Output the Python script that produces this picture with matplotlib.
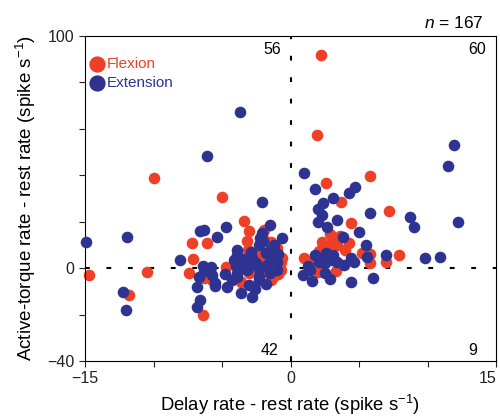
import numpy as np
import matplotlib.pyplot as plt

plt.rcParams['font.family'] = ['Liberation Sans', 'DejaVu Sans']
plt.rcParams['mathtext.fontset'] = 'custom'
plt.rcParams['mathtext.rm'] = 'Liberation Sans'
plt.rcParams['mathtext.it'] = 'Liberation Sans:italic'

red = '#EE4026'
blue = '#2E3391'

# Flexion (red) neurons: delay rate - rest, active-torque rate - rest
flex_x = [2.2, 1.9, 5.8, 2.6, 3.7, 7.2, 4.4, 7.9, 5.2, 5.8, 7.0, 1.0, 2.3, 3.1, 4.3, 3.4,
          2.7, 2.1, 3.6, 4.0, 5.8, 1.5, 2.9,
          -10.0, -5.0, -3.4, -3.0, -1.9, -3.2, -7.2, -6.1, -7.1, -3.1, -1.4, -0.6, -2.6,
          -2.3, -4.7, -0.7, -1.9, -1.0, -3.5, -2.0, -1.5,
          -14.7, -10.5, -11.8, -6.4, -7.4, -6.3, -2.0, -0.7, -1.3, -3.6, -2.6, -5.7, -3.9,
          -1.4, -0.9, -3.0,
          2.0, 3.3]
flex_y = [92, 57.5, 39.5, 36.5, 28.3, 24.5, 19.3, 5.6, 6.4, 2.1, 2.6, 4.3, 11.2, 12.0, 10.7, 9.9,
          8.6, 7.5, 13.7, 8.0, 6.0, 2.0, 14.5,
          39, 30.5, 20.2, 15.9, 16.3, 11.6, 10.7, 10.7, 3.9, 7.7, 11.2, 4.3, 4.3,
          6.4, 0.4, 2.6, 2.6, 8.5, 2.0, 13.0, 6.0,
          -3.0, -1.7, -11.6, -20.4, -2.1, -4.3, -1.7, -0.9, -3.9, -6.0, -0.5, -5.2, -3.0,
          -5.2, -2.5, -2.0,
          -1.7, -1.2]

# Extension (blue) neurons
ext_x = [11.9, 11.5, 12.2, 0.95, 1.8, 4.7, 4.3, 3.1, 2.4, 2.0, 2.3, 3.4, 2.7, 5.8, 8.7, 9.0,
         5.0, 3.8, 5.5, 1.8, 2.8, 2.5, 3.9, 4.4, 5.6, 7.0, 9.8, 10.9, 2.1, 3.1, 3.4, 2.0,
         3.0, 1.3, 2.6, 4.6, 2.2,
         -3.7, -6.1, -2.1, -14.9, -11.9, -8.1, -6.3, -6.6, -4.7, -5.4, -1.5, -0.6, -2.1,
         -2.3, -1.4, -1.0, -2.8, -3.9, -3.7, -6.4, -5.8, -4.1, -2.0, -1.5, -2.2, -1.8,
         -3.9, -2.5, -1.2, -0.9, -3.5, -2.9, -4.0, -1.7, -3.0,
         -12.2, -12.0, -6.8, -6.6, -6.8, -5.5, -4.6, -3.6, -2.8, -3.0, -2.3, -6.7, -5.7,
         -5.5, -3.9, -3.9, -2.3, -2.3, -1.5, -4.3, -3.2, -1.8, -4.8, -2.6, -1.0, -6.3,
         1.4, 1.6, 2.9, 4.4, 6.0, 0.9, 2.5]
ext_y = [53.2, 43.8, 19.7, 40.8, 33.9, 34.8, 32.2, 30.0, 27.9, 25.3, 22.7, 20.6, 17.6, 23.6, 21.9, 17.6,
         15.5, 13.3, 9.9, 5.6, 4.3, 2.1, 1.3, 4.3, 4.7, 5.6, 4.3, 4.8, 2.5, 5.6, 2.6, 20.0,
         3.5, 1.0, 6.5, 2.5, 4.0,
         67.4, 48.1, 28.3, 11.2, 13.3, 3.4, 16.3, 15.9, 17.6, 13.3, 18.5, 12.9, 15.0,
         9.9, 4.7, 2.6, 4.3, 5.6, 1.3, 0.9, 0.4, 3.4, 11.5, 7.7, 13.0, 6.5,
         8.0, 2.0, 10.0, 6.0, 4.0, 6.8, 1.0, 1.5, 0.8,
         -10.3, -18.0, -16.7, -13.7, -8.2, -7.7, -8.2, -10.7, -12.4, -7.3, -5.2, -3.9, -3.0,
         -6.4, -2.1, -3.9, -3.9, -0.3, -2.0, -5.0, -1.0, -7.0, -2.5, -9.0, -1.0, -1.2,
         -0.9, -5.4, -4.6, -6.0, -4.2, -2.8, -2.2]

fig = plt.figure(figsize=(5, 4.18), dpi=100)
ax = fig.add_axes([0.17, 0.1364, 0.822, 0.7775])

ax.axvline(0, color='black', lw=1.5, dashes=(2.3, 8), zorder=1)
ax.axhline(0, color='black', lw=1.5, dashes=(2.3, 8), zorder=1)

fl = ax.scatter(flex_x, flex_y, s=70, color=red, linewidths=0, zorder=2, clip_on=False)
ex = ax.scatter(ext_x, ext_y, s=70, color=blue, linewidths=0, zorder=3, clip_on=False)

ax.set_xlim(-15, 15)
ax.set_ylim(-40, 100)
ax.set_xticks([-15, 0, 15])
ax.set_xticks([-10, -5, 5, 10], minor=True)
ax.set_yticks([-40, 0, 100])
ax.set_yticks([-20, 20, 40, 60, 80], minor=True)
ax.tick_params(which='both', direction='out', length=4, width=0.8, labelsize=11.5,
               top=False, right=False, colors='#222222')
ax.get_xticklabels()[-1].set_horizontalalignment('right')
for sp in ax.spines.values():
    sp.set_linewidth(0.8)

ax.set_xlabel('Delay rate - rest rate (spike s$^{-1}$)', fontsize=13.3, labelpad=5)
ax.set_ylabel('Active-torque rate - rest rate (spike s$^{-1}$)', fontsize=13.5, labelpad=7)

# quadrant counts
ax.text(-0.65, 94, '56', ha='right', va='center', fontsize=11.5)
ax.text(14.3, 94, '60', ha='right', va='center', fontsize=11.5)
ax.text(-0.9, -35.6, '42', ha='right', va='center', fontsize=11.5)
ax.text(13.6, -35.6, '9', ha='right', va='center', fontsize=11.5)
ax.text(0.97, 1.015, '$n$ = 167', transform=ax.transAxes, ha='right', va='bottom', fontsize=12.5)

ax.legend([fl, ex], ['Flexion', 'Extension'], loc='upper left', frameon=False,
          markerscale=1.4, handletextpad=0.05, labelspacing=0.35, fontsize=11,
          labelcolor=[red, blue], borderaxespad=0.2, handlelength=1.2,
          bbox_to_anchor=(-0.015, 0.965))

fig.savefig('out.png', dpi=100)
